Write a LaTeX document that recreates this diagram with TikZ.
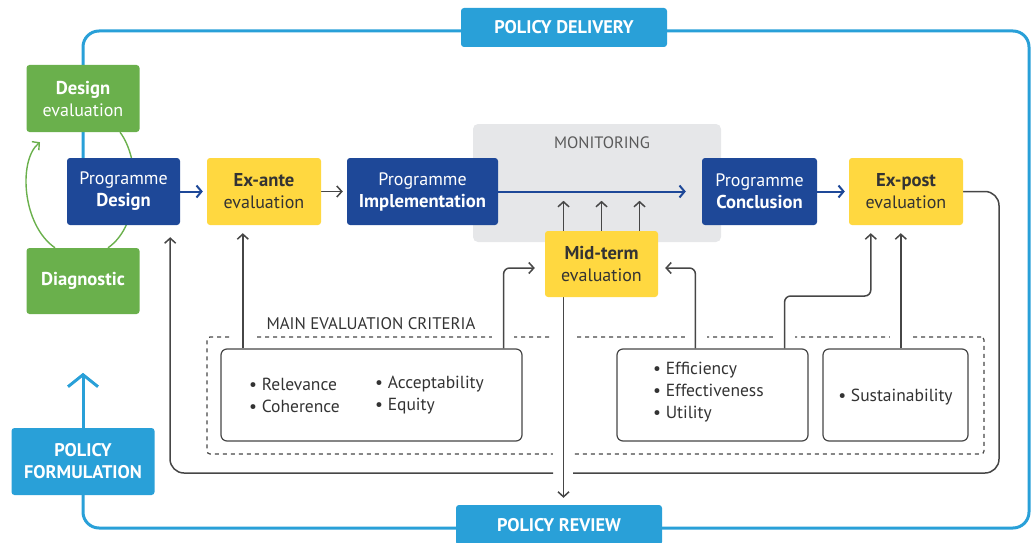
\documentclass[tikz,border=0pt]{standalone}
\usepackage{fontspec}
\setmainfont{PT Sans}
\usetikzlibrary{arrows.meta}
\definecolor{dblue}{RGB}{30,72,152}
\definecolor{yel}{RGB}{255,216,64}
\definecolor{grn}{RGB}{106,176,76}
\definecolor{lblue}{RGB}{41,160,216}
\definecolor{mgray}{RGB}{230,231,233}
\definecolor{dtext}{RGB}{51,51,51}
\definecolor{cgray}{RGB}{70,70,70}
\definecolor{montext}{RGB}{90,90,90}
\newcommand{\hb}[1]{{\fontsize{18.6}{22}\selectfont\bfseries #1}}
\pgfdeclarelayer{bg}
\pgfdeclarelayer{lines}
\pgfsetlayers{bg,lines,main}
\begin{document}
\begin{tikzpicture}[x=1pt,y=-1pt,
 box/.style={rectangle, rounded corners=3pt, align=center, inner sep=0pt, font=\fontsize{18}{22}\selectfont},
 bluebox/.style={box, fill=dblue, text=white},
 yelbox/.style={box, fill=yel, text=dtext},
 grnbox/.style={box, fill=grn, text=white},
 polbox/.style={box, fill=lblue, text=white, font=\fontsize{18.3}{22}\selectfont\bfseries},
 critbox/.style={draw=cgray, line width=1.2pt, rounded corners=6pt, fill=white, inner sep=0pt},
 crittext/.style={align=left, inner sep=0pt, text=dtext, font=\fontsize{17.5}{22}\selectfont},
 conn/.style={draw=cgray, line width=1.5pt, -{Straight Barb[length=5pt,width=11pt,line width=1.5pt]}},
 gline/.style={draw=cgray, line width=1.5pt},
 barrow/.style={draw=dblue, line width=2pt, -{Straight Barb[length=5pt,width=12pt,line width=2pt]}},
 outer/.style={draw=lblue, line width=3pt},
 gcurve/.style={draw=grn, line width=1.4pt},
 patch/.style={fill=white, draw=none}
]
\useasboundingbox (0,0) rectangle (1036,543);

% ---------- nodes ----------
\node[grnbox, minimum width=113pt, minimum height=67pt] (deval) at (83,98.5) {\hb{Design}\\evaluation};
\node[grnbox, minimum width=113pt, minimum height=66pt] (diag) at (83,281) {\hb{Diagnostic}};
\node[bluebox, minimum width=113pt, minimum height=67pt] (pdesign) at (123.5,191.5) {Programme\\\hb{Design}};
\node[yelbox, minimum width=114pt, minimum height=67pt] (exante) at (264,191.5) {\hb{Ex-ante}\\evaluation};
\node[bluebox, minimum width=151pt, minimum height=67pt] (pimpl) at (422.5,191.5) {Programme\\\hb{Implementation}};
\node[bluebox, minimum width=115pt, minimum height=67pt] (pconc) at (759.5,191.5) {Programme\\\hb{Conclusion}};
\node[yelbox, minimum width=114pt, minimum height=67pt] (expost) at (906,191.5) {\hb{Ex-post}\\evaluation};
\node[yelbox, minimum width=113pt, minimum height=66pt] (midterm) at (601.5,264) {\hb{Mid-term}\\evaluation};

\node[polbox, minimum width=206pt, minimum height=39pt] (delivery) at (564,27.5) {POLICY DELIVERY};
\node[polbox, minimum width=206pt, minimum height=40pt] (review) at (559,525) {POLICY REVIEW};
\node[polbox, minimum width=143pt, minimum height=67pt] (form) at (83,461.5) {POLICY\\FORMULATION};

\node[critbox, minimum width=301pt, minimum height=92pt] (crit1) at (371.5,395) {};
\node[critbox, minimum width=191pt, minimum height=92pt] (crit2) at (712.5,395) {};
\node[critbox, minimum width=145pt, minimum height=92pt] (crit3) at (895.5,395) {};

\node[crittext, anchor=west] (t1a) at (249,395) {• Relevance\\• Coherence};
\node[crittext, anchor=west] (t1b) at (375,395) {• Acceptability\\• Equity};
\node[crittext, anchor=west] (t2) at (653,392.5) {• Efficiency\\• Effectiveness\\• Utility};
\node[crittext] (t3) at (895.5,397) {• Sustainability};

\node[inner sep=0pt, text=dtext, font=\fontsize{16.8}{20}\selectfont] (critlab) at (371,324) {MAIN EVALUATION CRITERIA};

% ---------- background ----------
\begin{pgfonlayer}{bg}
\node[fill=mgray, rounded corners=5pt, minimum width=248pt, minimum height=118pt, inner sep=0pt] (mon) at (597,183) {};
\node[inner sep=0pt, text=montext, font=\fontsize{16.5}{20}\selectfont] (monlab) at (602,142.5) {MONITORING};
\node[draw=cgray, line width=1.2pt, dash pattern=on 4pt off 4pt, rounded corners=3pt, minimum width=777pt, minimum height=117pt, inner sep=0pt] (critall) at (595.5,395.5) {};
\foreach \xx in {243,503,563,696,784,901}{
  \fill[patch] (\xx-11,332) rectangle (\xx+11,342);
}
\fill[patch] (553,449) rectangle (573,459);
\end{pgfonlayer}

% ---------- lines ----------
\begin{pgfonlayer}{lines}
\coordinate (tl) at (83,31);
\coordinate (tr) at (1029,31);
\coordinate (br) at (1029,528);
\coordinate (bl) at (83,528);
\draw[outer, rounded corners=16pt] (deval.south |- pdesign.north) -- (tl) -- (tr) -- (br) -- (bl) -- (form.south);
\draw[outer, -{Straight Barb[length=12pt,width=30pt,line width=3pt]}] (form.north) -- ++(0,-55);

% green loop
\coordinate (g1) at ([xshift=-28pt]diag.north);
\coordinate (g2) at ([xshift=-43pt,yshift=-10pt]deval.south);
\coordinate (g3) at ([xshift=37pt]deval.south);
\coordinate (g4) at ([xshift=25pt]diag.north);
\draw[gcurve, -{Straight Barb[length=5pt,width=11pt,line width=1.4pt]}] (g1) .. controls (22,225) and (18,160) .. (g2);
\draw[gcurve] (g3) .. controls (141,160) and (141,225) .. (g4);

% main flow
\draw[barrow, shorten >=4pt] (pdesign.east) -- (exante.west);
\draw[conn, shorten >=4pt] (exante.east) -- (pimpl.west);
\draw[barrow, shorten >=16pt] (pimpl.east) -- (pconc.west);
\draw[barrow, shorten >=4pt] (pconc.east) -- (expost.west);

% monitoring arrows
\foreach \dx in {-38,0,38}{
  \draw[conn] ([xshift=\dx pt]midterm.north) -- ++(0,-30);
}
% mid-term to review
\coordinate (m1) at ([xshift=-38pt]midterm.south);
\draw[conn, shorten >=7pt] (m1) -- (m1 |- review.north);

% criteria connectors
\coordinate (a1) at ([xshift=36pt]exante.south west);
\draw[conn, shorten >=8pt] (crit1.north -| a1) -- (a1);
\coordinate (b1) at ([xshift=-19pt]crit1.north east);
\draw[conn, rounded corners=6pt, shorten >=10pt] (b1) |- ([yshift=-4pt]midterm.west);
\coordinate (b2) at ([xshift=79pt]crit2.north west);
\draw[conn, rounded corners=6pt, shorten >=7pt] (b2) |- ([yshift=-4pt]midterm.east);
\coordinate (c2) at ([xshift=-24pt]crit2.north east);
\coordinate (e1) at ([xshift=22pt]expost.south west);
\coordinate (k1) at (0,296);
\draw[conn, rounded corners=6pt, shorten >=8pt] (c2) -- (c2 |- k1) -| (e1);
\coordinate (e2) at ([xshift=52pt]expost.south west);
\draw[conn, shorten >=8pt] (crit3.north -| e2) -- (e2);

% return loop
\coordinate (r1) at (999,191.5);
\coordinate (r2) at (999,473);
\coordinate (gapR) at (573,473);
\coordinate (gapL) at (553,473);
\coordinate (rl) at (170,473);
\coordinate (pd1) at ([xshift=-10pt]pdesign.south east);
\draw[gline, rounded corners=14pt] (expost.east) -- (r1) -- (r2) -- (gapR);
\draw[conn, rounded corners=14pt, shorten >=12pt] (gapL) -- (rl) -- (pd1);
\end{pgfonlayer}
\end{tikzpicture}
\end{document}
